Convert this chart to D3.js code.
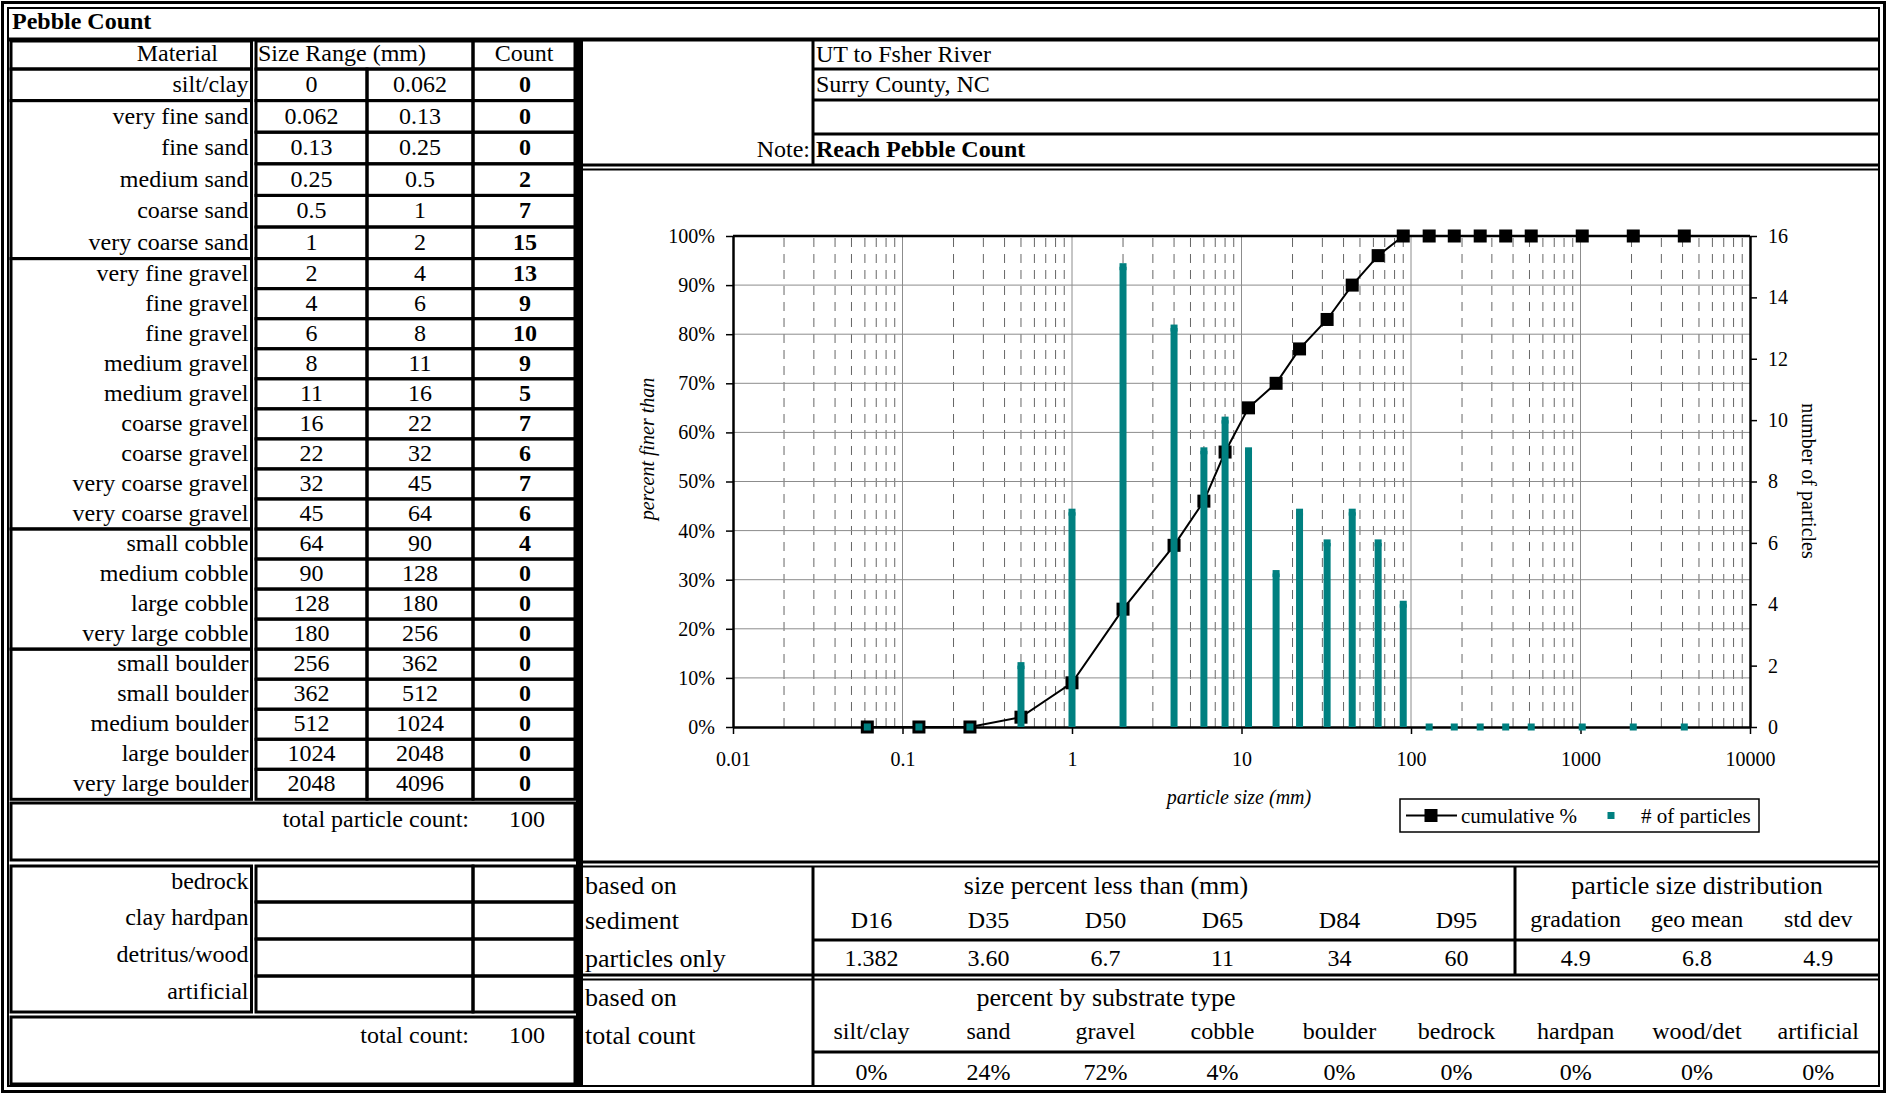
<!DOCTYPE html>
<html>
<head>
<meta charset="utf-8">
<script src="https://cdn.jsdelivr.net/npm/d3@7"></script>
<style>
  body { margin: 0; background: #fff; }
  svg { display: block; }
  text { font-family: 'Liberation Serif', 'Times New Roman', Times, serif; fill: #000; }
</style>
</head>
<body>
<svg id="sheet" width="1887" height="1094"></svg>
<script>
// ---------- pebble count data ----------
const materials = ["silt/clay", "very fine sand", "fine sand", "medium sand", "coarse sand", "very coarse sand",
  "very fine gravel", "fine gravel", "fine gravel", "medium gravel", "medium gravel", "coarse gravel", "coarse gravel",
  "very coarse gravel", "very coarse gravel", "small cobble", "medium cobble", "large cobble", "very large cobble",
  "small boulder", "small boulder", "medium boulder", "large boulder", "very large boulder"];
const sizeMinLabels = ["0", "0.062", "0.13", "0.25", "0.5", "1", "2", "4", "6", "8", "11", "16", "22", "32", "45",
  "64", "90", "128", "180", "256", "362", "512", "1024", "2048"];
const sizeMaxLabels = ["0.062", "0.13", "0.25", "0.5", "1", "2", "4", "6", "8", "11", "16", "22", "32", "45", "64",
  "90", "128", "180", "256", "362", "512", "1024", "2048", "4096"];
const classUpperMm = [0.062, 0.125, 0.25, 0.5, 1, 2, 4, 6, 8, 11, 16, 22, 32, 45, 64, 90, 128, 180, 256, 362, 512, 1024, 2048, 4096];
const particleCounts = [0, 0, 0, 2, 7, 15, 13, 9, 10, 9, 5, 7, 6, 7, 6, 4, 0, 0, 0, 0, 0, 0, 0, 0];
const cumulativePct = [0, 0, 0, 2, 9, 24, 37, 46, 56, 65, 70, 77, 83, 90, 96, 100, 100, 100, 100, 100, 100, 100, 100, 100];
const groupSizes = [1, 5, 9, 4, 5];          // silt/clay, sand, gravel, cobble, boulder
const totalParticleCount = 100;
const otherMaterials = ["bedrock", "clay hardpan", "detritus/wood", "artificial"];
const totalCount = 100;

const siteInfo = ["UT to Fsher River", "Surry County, NC", ""];
const noteText = "Reach Pebble Count";

const dLabels = ["D16", "D35", "D50", "D65", "D84", "D95"];
const dValues = ["1.382", "3.60", "6.7", "11", "34", "60"];
const psdLabels = ["gradation", "geo mean", "std dev"];
const psdValues = ["4.9", "6.8", "4.9"];
const substrateLabels = ["silt/clay", "sand", "gravel", "cobble", "boulder", "bedrock", "hardpan", "wood/det", "artificial"];
const substratePct = [0, 24, 72, 4, 0, 0, 0, 0, 0];

const xTickValues = [0.01, 0.1, 1, 10, 100, 1000, 10000];
const pctTickValues = [0, 0.1, 0.2, 0.3, 0.4, 0.5, 0.6, 0.7, 0.8, 0.9, 1];
const countTickValues = [0, 2, 4, 6, 8, 10, 12, 14, 16];

// ---------- helpers ----------
const svg = d3.select("#sheet");
const TEAL = "#008080";

function box(x0, y0, x1, y1, sw = 3) {
  svg.append("rect").attr("x", x0).attr("y", y0).attr("width", x1 - x0).attr("height", y1 - y0)
    .attr("fill", "none").attr("stroke", "#000").attr("stroke-width", sw);
}
function hline(x0, x1, y, sw = 3) {
  svg.append("line").attr("x1", x0).attr("x2", x1).attr("y1", y).attr("y2", y)
    .attr("stroke", "#000").attr("stroke-width", sw);
}
function vline(x, y0, y1, sw = 3) {
  svg.append("line").attr("x1", x).attr("x2", x).attr("y1", y0).attr("y2", y1)
    .attr("stroke", "#000").attr("stroke-width", sw);
}
function label(x, y, s, anchor = "start", size = 24, weight = "normal", style = "normal") {
  return svg.append("text").attr("x", x).attr("y", y).attr("dy", "0.34em")
    .attr("text-anchor", anchor).style("font-size", size + "px")
    .style("font-weight", weight).style("font-style", style).text(s);
}

// ---------- outer frame & title ----------
box(2.5, 2.5, 1884.5, 1091.5, 3);
box(8, 8, 1879, 1086, 2);
label(12, 21, "Pebble Count", "start", 24, "bold");
hline(8, 1879, 39.5, 4);

// ---------- left table ----------
const C = { x0: 11, mat: 251.5, s0: 256, s1: 367, s2: 473, s3: 575 };
const headTop = 41, headBot = 69;
function rowTop(i) { return i < 6 ? headBot + i * 31.6 : 258.6 + (i - 6) * 30.04; }

box(C.x0, headTop, C.mat, headBot);
box(C.s0, headTop, C.s2, headBot);
box(C.s2, headTop, C.s3, headBot);
label(218, 53, "Material", "end");
label(258, 53, "Size Range (mm)", "start");
label((C.s2 + C.s3) / 2, 53, "Count", "middle");

let gStart = 0;
groupSizes.forEach(n => {
  box(C.x0, rowTop(gStart), C.mat, rowTop(gStart + n));
  gStart += n;
});
materials.forEach((m, i) => {
  const y0 = rowTop(i), y1 = rowTop(i + 1), yc = (y0 + y1) / 2 - 1;
  box(C.s0, y0, C.s1, y1);
  box(C.s1, y0, C.s2, y1);
  box(C.s2, y0, C.s3, y1);
  label(C.mat - 3, yc, m, "end");
  label((C.s0 + C.s1) / 2, yc, sizeMinLabels[i], "middle");
  label((C.s1 + C.s2) / 2, yc, sizeMaxLabels[i], "middle");
  label((C.s2 + C.s3) / 2 + 1, yc, particleCounts[i], "middle", 24, "bold");
});

box(C.x0, 803, C.s3, 860);
label(469, 819, "total particle count:", "end");
label(527, 819, totalParticleCount, "middle");

const otherTop = 866, otherRows = [866, 902, 939, 976, 1012];
box(C.x0, otherTop, C.mat, 1012);
otherMaterials.forEach((m, i) => {
  const y0 = otherRows[i], y1 = otherRows[i + 1];
  box(C.s0, y0, C.s2, y1);
  box(C.s2, y0, C.s3, y1);
  label(C.mat - 3, y0 + 15, m, "end");
});

box(C.x0, 1017, C.s3, 1084);
label(469, 1035, "total count:", "end");
label(527, 1035, totalCount, "middle");

// thick separator between the tables and the chart panel
svg.append("rect").attr("x", 576).attr("y", 40).attr("width", 7).attr("height", 1046).attr("fill", "#000");

// ---------- site information ----------
const R = { x0: 583, lab: 813, x1: 1879 };
const infoLines = [69, 100, 134];
infoLines.forEach(y => hline(R.lab, R.x1, y, 3));
vline(R.lab, 40, 165, 3);
siteInfo.forEach((s, i) => {
  const y0 = i === 0 ? 40 : infoLines[i - 1], y1 = infoLines[i];
  label(R.lab + 3, (y0 + y1) / 2 - 1, s, "start");
});
label(R.lab - 3, 149, "Note:", "end");
label(R.lab + 3, 149, noteText, "start", 24, "bold");
hline(R.x0, R.x1, 165, 3);
hline(R.x0, R.x1, 169.5, 2);

// ---------- chart ----------
const plot = { left: 733, right: 1750, top: 236, bottom: 727 };
const x = d3.scaleLog().domain([0.01, 10000]).range([plot.left, plot.right]);
const yPct = d3.scaleLinear().domain([0, 1]).range([plot.bottom, plot.top]);
const yCnt = d3.scaleLinear().domain([0, 16]).range([plot.bottom, plot.top]);

const grid = svg.append("g");
// minor (dashed) and decade (solid) vertical grid lines
for (let e = -2; e <= 3; e++) {
  for (let k = 2; k <= 9; k++) {
    const v = k * Math.pow(10, e);
    grid.append("line").attr("x1", x(v)).attr("x2", x(v)).attr("y1", plot.top + 2).attr("y2", plot.bottom)
      .attr("stroke", "#666").attr("stroke-width", 1).attr("stroke-dasharray", "9,7");
  }
}
xTickValues.slice(1, -1).forEach(v => {
  grid.append("line").attr("x1", x(v)).attr("x2", x(v)).attr("y1", plot.top).attr("y2", plot.bottom)
    .attr("stroke", "#8c8c8c").attr("stroke-width", 1);
});
pctTickValues.slice(1, -1).forEach(v => {
  grid.append("line").attr("x1", plot.left).attr("x2", plot.right).attr("y1", yPct(v)).attr("y2", yPct(v))
    .attr("stroke", "#8c8c8c").attr("stroke-width", 1);
});

// axes
function styleAxis(g) {
  g.select(".domain").attr("stroke", "#000").attr("stroke-width", 2.5);
  g.selectAll(".tick line").attr("stroke", "#000").attr("stroke-width", 1.5);
  g.selectAll(".tick text").style("font-size", "20px").attr("fill", "#000").attr("font-family", null);
}
svg.append("g").attr("transform", `translate(${plot.left},0)`)
  .call(d3.axisLeft(yPct).tickValues(pctTickValues).tickFormat(d3.format(".0%")).tickSize(7).tickSizeOuter(0).tickPadding(11))
  .call(styleAxis);
svg.append("g").attr("transform", `translate(0,${plot.bottom})`)
  .call(d3.axisBottom(x).tickValues(xTickValues).tickFormat(d3.format("~g")).tickSize(7).tickSizeOuter(0).tickPadding(18))
  .call(styleAxis);
svg.append("g").attr("transform", `translate(${plot.right},0)`)
  .call(d3.axisRight(yCnt).tickValues(countTickValues).tickSize(7).tickSizeOuter(0).tickPadding(11))
  .call(styleAxis);
hline(plot.left, plot.right, plot.top, 2.5);

// cumulative % line and markers
const cum = classUpperMm.map((d, i) => ({ size: d, pct: cumulativePct[i] / 100 }));
svg.append("path").datum(cum)
  .attr("d", d3.line().x(d => x(d.size)).y(d => yPct(d.pct)))
  .attr("fill", "none").attr("stroke", "#000").attr("stroke-width", 2);
svg.append("g").selectAll("rect").data(cum).join("rect")
  .attr("x", d => x(d.size) - 6.5).attr("y", d => yPct(d.pct) - 6.5)
  .attr("width", 13).attr("height", 13).attr("fill", "#000");

// number of particles: drop bars with small square markers
const cnt = classUpperMm.map((d, i) => ({ size: d, n: particleCounts[i] }));
svg.append("g").selectAll("line").data(cnt.filter(d => d.n > 0)).join("line")
  .attr("x1", d => x(d.size)).attr("x2", d => x(d.size))
  .attr("y1", yCnt(0)).attr("y2", d => yCnt(d.n))
  .attr("stroke", TEAL).attr("stroke-width", 7);
svg.append("g").selectAll("rect").data(cnt).join("rect")
  .attr("x", d => x(d.size) - 3.5).attr("y", d => yCnt(d.n) - 3.5)
  .attr("width", 7).attr("height", 7).attr("fill", TEAL);

// axis titles
svg.append("text").attr("transform", "translate(647,449) rotate(-90)").attr("dy", "0.34em")
  .attr("text-anchor", "middle").style("font-size", "20px").style("font-style", "italic").text("percent finer than");
svg.append("text").attr("transform", "translate(1809,481) rotate(90)").attr("dy", "0.34em")
  .attr("text-anchor", "middle").style("font-size", "20px").text("number of particles");
label(1239, 797, "particle size (mm)", "middle", 20, "normal", "italic");

// legend
svg.append("rect").attr("x", 1400).attr("y", 799).attr("width", 359).attr("height", 33)
  .attr("fill", "#fff").attr("stroke", "#000").attr("stroke-width", 1.5);
hline(1406, 1457, 815.5, 2);
svg.append("rect").attr("x", 1424.5).attr("y", 809).attr("width", 13).attr("height", 13).attr("fill", "#000");
label(1461, 815.5, "cumulative %", "start", 21);
svg.append("rect").attr("x", 1607.5).attr("y", 812).attr("width", 7).attr("height", 7).attr("fill", TEAL);
label(1641, 815.5, "# of particles", "start", 21);

// ---------- summary statistics ----------
hline(R.x0, R.x1, 862, 3);
hline(R.x0, R.x1, 866.5, 2);
vline(R.lab, 866, 1085, 3);
vline(1515, 866, 976, 3);
hline(R.lab, R.x1, 940, 3);
hline(R.x0, R.x1, 975, 3);
hline(R.x0, R.x1, 979.5, 2);
hline(R.lab, R.x1, 1052, 3);

label(585, 885, "based on", "start", 26);
label(585, 920, "sediment", "start", 26);
label(585, 958, "particles only", "start", 26);
label(585, 997, "based on", "start", 26);
label(585, 1035, "total count", "start", 26);

const dCenter = i => R.lab + (i + 0.5) * 117;
const pCenter = i => 1515 + (i + 0.5) * 121.3;
label(1106, 885, "size percent less than (mm)", "middle", 26);
label(1697, 885, "particle size distribution", "middle", 26);
dLabels.forEach((s, i) => label(dCenter(i), 920, s, "middle", 24));
dValues.forEach((s, i) => label(dCenter(i), 958, s, "middle", 24));
psdLabels.forEach((s, i) => label(pCenter(i), 919, s, "middle", 24));
psdValues.forEach((s, i) => label(pCenter(i), 958, s, "middle", 24));

label(1106, 997, "percent by substrate type", "middle", 26);
const subCenter = i => (i < 6 ? dCenter(i) : pCenter(i - 6));
substrateLabels.forEach((s, i) => label(subCenter(i), 1031, s, "middle", 24));
substratePct.forEach((v, i) => label(subCenter(i), 1072, v + "%", "middle", 24));
</script>
</body>
</html>
